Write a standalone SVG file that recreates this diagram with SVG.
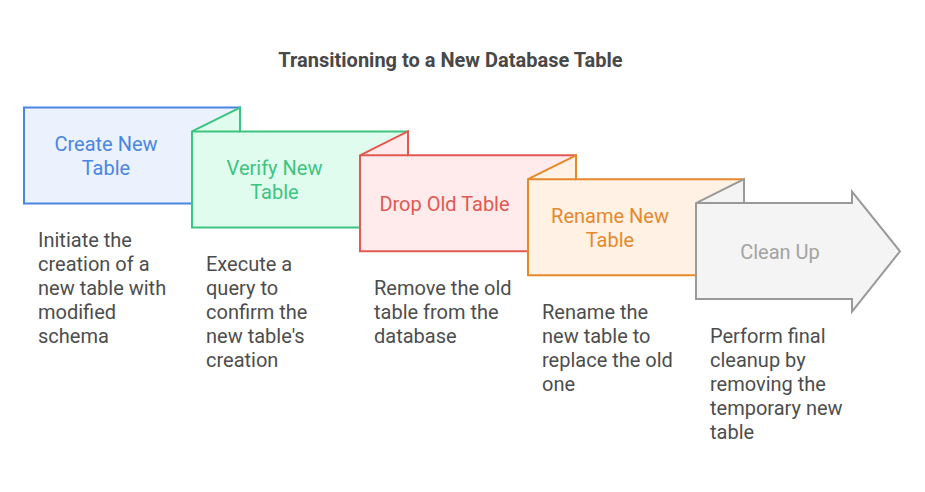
<svg xmlns="http://www.w3.org/2000/svg" width="925" height="492" viewBox="0 0 925 492">
<style>
.t{font-family:Roboto,"Liberation Sans",sans-serif;}
.title{font-size:20px;font-weight:bold;fill:#484848;}
.lbl{font-size:20px;text-anchor:middle;}
.desc{font-size:20px;fill:#4D4D4D;}
.sw{stroke-width:2;stroke-linejoin:miter;}
</style>
<rect width="925" height="492" fill="#ffffff"/>
<text class="t title" x="450.5" y="66.5" text-anchor="middle">Transitioning to a New Database Table</text>
<g id="connectors"></g>
<g id="n1">
<rect class="sw" x="24" y="107.5" width="216" height="96" fill="#EBF2FE" stroke="#4A86E0"/>
<text class="t lbl" fill="#4A86E0" x="106" y="151">Create New</text>
<text class="t lbl" fill="#4A86E0" x="106" y="175">Table</text>
<text class="t desc"><tspan x="38" y="247">Initiate the</tspan><tspan x="38" y="271">creation of a</tspan><tspan x="38" y="295">new table with</tspan><tspan x="38" y="319">modified</tspan><tspan x="38" y="343">schema</tspan></text>
</g>
<g id="n2">
<path class="sw" d="M192,131.4 L240,107.5 L240,131.4 L408,131.4 L408,227.4 L192,227.4 Z" fill="#E0FCEE" stroke="#3CC480"/>
<path class="sw" d="M240,131.4 L192,131.4" fill="none" stroke="#3CC480"/>
<text class="t lbl" fill="#3CC480" x="274.5" y="175">Verify New</text>
<text class="t lbl" fill="#3CC480" x="274.5" y="199">Table</text>
<text class="t desc"><tspan x="206" y="271">Execute a</tspan><tspan x="206" y="295">query to</tspan><tspan x="206" y="319">confirm the</tspan><tspan x="206" y="343">new table's</tspan><tspan x="206" y="367">creation</tspan></text>
</g>
<g id="n3">
<path class="sw" d="M360,155.3 L408,131.4 L408,155.3 L576,155.3 L576,251.3 L360,251.3 Z" fill="#FFEBEB" stroke="#E05A52"/>
<path class="sw" d="M408,155.3 L360,155.3" fill="none" stroke="#E05A52"/>
<text class="t lbl" fill="#E05A52" x="444.5" y="211">Drop Old Table</text>
<text class="t desc"><tspan x="374" y="295">Remove the old</tspan><tspan x="374" y="319">table from the</tspan><tspan x="374" y="343">database</tspan></text>
</g>
<g id="n4">
<path class="sw" d="M528,179.2 L576,155.3 L576,179.2 L744,179.2 L744,275.2 L528,275.2 Z" fill="#FFF1E3" stroke="#E5892E"/>
<path class="sw" d="M576,179.2 L528,179.2" fill="none" stroke="#E5892E"/>
<text class="t lbl" fill="#E5892E" x="610" y="223">Rename New</text>
<text class="t lbl" fill="#E5892E" x="610" y="247">Table</text>
<text class="t desc"><tspan x="542" y="319">Rename the</tspan><tspan x="542" y="343">new table to</tspan><tspan x="542" y="367">replace the old</tspan><tspan x="542" y="391">one</tspan></text>
</g>
<g id="n5">
<path class="sw" d="M696,203.1 L744,179.2 L744,203.1 L852,203.1 L852,191.7 L900,251.3 L852,311.7 L852,299.1 L696,299.1 Z" fill="#F4F4F4" stroke="#999999"/>
<path class="sw" d="M744,203.1 L696,203.1" fill="none" stroke="#999999"/>
<text class="t lbl" fill="#A3A3A3" x="780" y="259">Clean Up</text>
<text class="t desc"><tspan x="710" y="343">Perform final</tspan><tspan x="710" y="367">cleanup by</tspan><tspan x="710" y="391">removing the</tspan><tspan x="710" y="415">temporary new</tspan><tspan x="710" y="439">table</tspan></text>
</g>
</svg>
